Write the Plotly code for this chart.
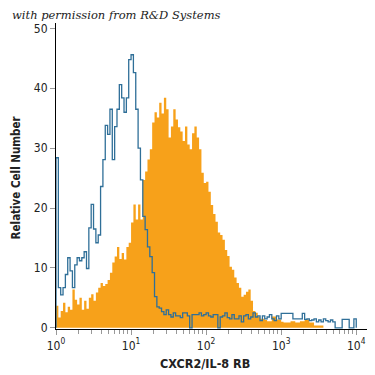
import plotly.graph_objects as go

# Histogram bins: 32 bins per decade over 10^0 .. 10^4
bins_per_decade = 32

# Isotype control (blue outline), counts per bin
isotype_counts = [
    28.4, 6.7, 5.5, 6.7, 8.9, 11.7, 9.5, 6.7, 10.5, 11.7,
    11.2, 11.7, 12.7, 9.9, 16.7, 20.6, 16.5, 14.2, 15.5, 23.6,
    28.1, 33.8, 32.3, 36.5, 28.1, 33.6, 36.5, 40.6, 38.4, 36.0,
    38.4, 44.8, 45.6, 42.6, 36.5, 30.0, 24.7, 18.6, 16.4, 13.5,
    11.9, 9.2, 5.2, 3.5, 3.3, 2.7, 2.2, 3.0, 2.2, 1.8,
    2.5, 2.0, 2.0, 1.7, 2.5, 2.5, 2.0, 0.0, 2.2, 2.2,
    2.2, 2.5, 2.0, 2.2, 2.5, 2.0, 1.8, 2.2, 2.2, 0.0,
    1.8, 2.0, 2.5, 1.7, 1.5, 2.2, 1.5, 1.5, 2.0, 1.0,
    2.0, 2.2, 1.5, 1.8, 2.5, 1.8, 2.0, 1.2, 2.0, 1.5,
    1.8, 2.2, 1.5, 1.2, 2.0, 1.5, 2.4, 2.4, 2.4, 2.4,
    2.4, 1.5, 1.5, 1.5, 1.5, 2.4, 1.4, 1.5, 1.2, 1.3,
    1.5, 1.0, 1.3, 1.0, 1.5, 1.2, 1.0, 1.3, 1.0, 0.0,
    0.0, 0.0, 1.4, 1.4, 1.4, 0.0, 0.0, 1.5,
]

# CXCR2 stained (orange filled), counts per bin
stained_counts = [
    3.7, 1.7, 2.8, 4.2, 2.6, 3.5, 3.0, 6.4, 4.7, 3.9,
    5.0, 3.0, 4.5, 3.2, 5.0, 5.6, 4.5, 5.9, 6.7, 7.5,
    7.0, 7.3, 8.0, 9.2, 10.9, 11.9, 13.5, 11.5, 12.5, 11.4,
    13.5, 14.2, 17.6, 20.6, 18.1, 20.6, 18.1, 24.7, 26.1, 28.1,
    29.8, 34.3, 36.0, 35.1, 37.6, 35.8, 38.4, 36.5, 31.8, 33.6,
    36.5, 34.8, 33.5, 32.8, 31.2, 33.6, 30.6, 29.8, 32.5, 33.6,
    31.8, 29.8, 25.9, 24.2, 24.4, 22.7, 20.5, 19.0, 17.7, 15.9,
    15.5, 14.7, 13.0, 12.0, 10.2, 9.7, 8.4, 7.5, 6.7, 5.2,
    5.5, 6.0, 6.4, 4.5, 2.8, 2.5, 1.9, 1.5, 1.5, 1.3,
    1.1, 1.1, 1.9, 1.9, 1.4, 1.4, 1.0, 0.9, 0.9, 0.9,
    1.1, 1.1, 0.9, 0.9, 1.1, 1.1, 1.4, 1.4, 0.9, 0.9,
    0.4, 0.4, 0.4, 0.4, 0.0, 0.0, 0.0, 0.0, 0.0, 0.0,
    0.0, 0.0, 0.0, 0.0, 0.0, 0.0, 0.0, 0.0,
]

x_tick_vals = [1, 10, 100, 1000, 10000]
x_tick_text = ["10<sup>0</sup>", "10<sup>1</sup>", "10<sup>2</sup>", "10<sup>3</sup>", "10<sup>4</sup>"]
y_tick_vals = [0, 10, 20, 30, 40, 50]

x_title = "CXCR2/IL-8 RB"
y_title = "Relative Cell Number"
credit = "with permission from R&D Systems"


def step_xy(counts):
    xs, ys = [], []
    n = len(counts)
    edges = [10 ** (i / bins_per_decade) for i in range(n + 1)]
    xs.append(edges[0]); ys.append(0)
    for i, c in enumerate(counts):
        xs.append(edges[i]); ys.append(c)
    xs.append(edges[n]); ys.append(counts[-1])
    xs.append(edges[n]); ys.append(0)
    return xs, ys


sx, sy = step_xy(stained_counts)
ix, iy = step_xy(isotype_counts)

font_family = "DejaVu Sans Condensed, Liberation Sans Narrow, sans-serif"

fig = go.Figure()
fig.add_trace(go.Scatter(
    x=sx, y=sy, mode="lines", line=dict(shape="hv", width=0, color="#f7a11a"),
    fill="tozeroy", fillcolor="#f7a11a", hoverinfo="skip", showlegend=False,
))
fig.add_trace(go.Scatter(
    x=ix, y=iy, mode="lines", line=dict(shape="hv", width=1.3, color="#2f6f98"),
    hoverinfo="skip", showlegend=False,
))

# The page body adds an 8px offset, so the figure is 367 px and margins are shifted.
fig.update_layout(
    width=367, height=367,
    margin=dict(l=48, r=3, t=15, b=45.5, autoexpand=False),
    paper_bgcolor="white", plot_bgcolor="white",
    font=dict(family=font_family, size=12, color="#222"),
    xaxis=dict(
        type="log", range=[0, 4.21], automargin=False,
        tickvals=x_tick_vals, ticktext=x_tick_text,
        ticks="outside", ticklen=5, tickcolor="#999", tickwidth=1,
        minor=dict(ticks="outside", ticklen=4, tickcolor="#999", dtick="D1", showgrid=False),
        showline=True, linecolor="black", linewidth=1.2,
        showgrid=False, zeroline=False,
        tickfont=dict(size=12, color="#222"),
    ),
    yaxis=dict(
        range=[-0.2, 50.9], automargin=False,
        tickvals=y_tick_vals,
        ticks="outside", ticklen=5, tickcolor="#999", tickwidth=1,
        showline=True, linecolor="black", linewidth=1.2,
        showgrid=False, zeroline=False,
        tickfont=dict(size=12, color="#222"),
    ),
    annotations=[
        dict(text="<i>" + credit + "</i>", xref="paper", yref="paper",
             x=-0.146, y=1.026, xanchor="left", yanchor="middle", showarrow=False,
             font=dict(family="DejaVu Serif, Liberation Serif, serif", size=11.5, color="#222")),
        dict(text="<b>" + x_title + "</b>", xref="paper", yref="paper",
             x=0.472, y=-0.113, xanchor="center", yanchor="middle", showarrow=False,
             font=dict(size=12.5, color="#222")),
        dict(text="<b>" + y_title + "</b>", xref="paper", yref="paper",
             x=-0.128, y=0.494, xanchor="center", yanchor="middle", showarrow=False,
             textangle=-90, font=dict(size=11.5, color="#222")),
    ],
)

fig.write_html("out.html")
